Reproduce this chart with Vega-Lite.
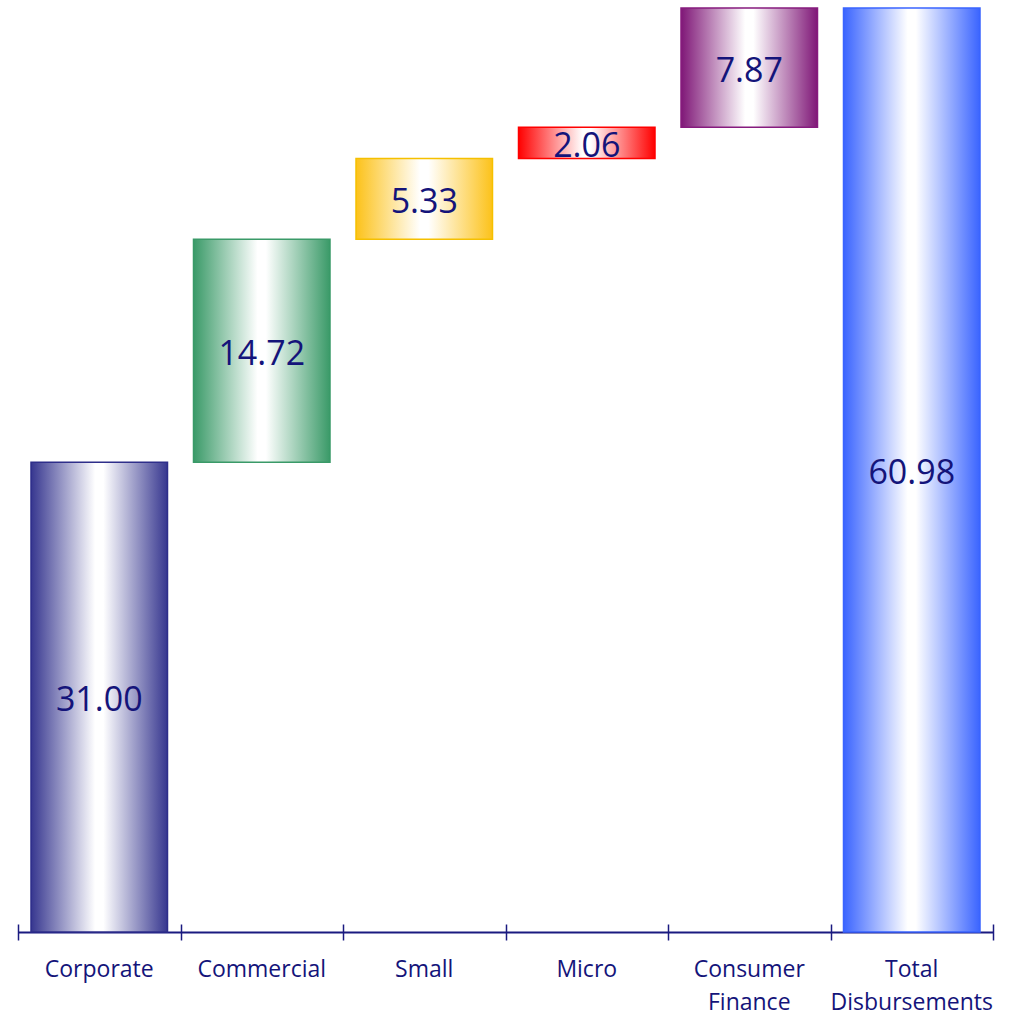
{
  "$schema": "https://vega.github.io/schema/vega-lite/v6.json",
  "width": 975,
  "height": 924,
  "autosize": "none",
  "padding": {"left": 18, "top": 8, "right": 16, "bottom": 84},
  "background": "white",
  "config": {"view": {"stroke": null}},
  "data": {
    "values": [
      {"cat": "Corporate", "start": 0, "end": 31.0, "value": 31.0},
      {"cat": "Commercial", "start": 31.0, "end": 45.72, "value": 14.72},
      {"cat": "Small", "start": 45.72, "end": 51.05, "value": 5.33},
      {"cat": "Micro", "start": 51.05, "end": 53.11, "value": 2.06},
      {"cat": "Consumer Finance", "start": 53.11, "end": 60.98, "value": 7.87},
      {"cat": "Total Disbursements", "start": 0, "end": 60.98, "value": 60.98}
    ]
  },
  "encoding": {
    "x": {
      "field": "cat", "type": "nominal",
      "scale": {"domain": ["Corporate", "Commercial", "Small", "Micro", "Consumer Finance", "Total Disbursements"], "paddingInner": 0, "paddingOuter": 0},
      "axis": null
    },
    "y": {"field": "start", "type": "quantitative", "scale": {"domain": [0, 60.98], "nice": false}, "axis": null},
    "y2": {"field": "end"}
  },
  "resolve": {"axis": {"x": "independent"}},
  "layer": [
    {
      "transform": [{"filter": "datum.cat == 'Corporate'"}],
      "mark": {"type": "bar", "width": {"band": 0.84}, "strokeWidth": 1.5, "stroke": "#2e2e8a",
        "fill": {"gradient": "linear", "x1": 0, "x2": 1, "y1": 0, "y2": 0,
          "stops": [{"offset": 0, "color": "#36368f"}, {"offset": 0.47, "color": "#ffffff"}, {"offset": 0.53, "color": "#ffffff"}, {"offset": 1, "color": "#36368f"}]}},
      "encoding": {
        "x": {
          "field": "cat", "type": "nominal",
          "scale": {"domain": ["Corporate", "Commercial", "Small", "Micro", "Consumer Finance", "Total Disbursements"], "paddingInner": 0, "paddingOuter": 0},
          "axis": {"orient": "bottom", "title": null, "domain": true, "domainColor": "#1a1a80", "domainWidth": 2, "ticks": false, "grid": false,
            "labelExpr": "split(datum.label, ' ')", "labelAngle": 0, "labelFont": "Open Sans", "labelFontSize": 23, "labelColor": "#14147a",
            "labelPadding": 26, "labelLineHeight": 33, "labelBaseline": "top"}
        }
      }
    },
    {
      "transform": [{"filter": "datum.cat == 'Commercial'"}],
      "mark": {"type": "bar", "width": {"band": 0.84}, "strokeWidth": 1.5, "stroke": "#3a9a68",
        "fill": {"gradient": "linear", "x1": 0, "x2": 1, "y1": 0, "y2": 0,
          "stops": [{"offset": 0, "color": "#3a9a68"}, {"offset": 0.47, "color": "#ffffff"}, {"offset": 0.53, "color": "#ffffff"}, {"offset": 1, "color": "#3a9a68"}]}},
      "encoding": {
        "x": {
          "field": "cat", "type": "nominal",
          "scale": {"domain": ["Corporate", "Commercial", "Small", "Micro", "Consumer Finance", "Total Disbursements"], "paddingInner": 0, "paddingOuter": 0},
          "axis": {"orient": "bottom", "title": null, "domain": false, "labels": false, "grid": false, "ticks": true, "tickBand": "extent",
            "tickSize": 16, "tickWidth": 1.5, "tickColor": "#1a1a80", "offset": -8}
        }
      }
    },
    {
      "transform": [{"filter": "datum.cat == 'Small'"}],
      "mark": {"type": "bar", "width": {"band": 0.84}, "strokeWidth": 1.5, "stroke": "#f5c000",
        "fill": {"gradient": "linear", "x1": 0, "x2": 1, "y1": 0, "y2": 0,
          "stops": [{"offset": 0, "color": "#fcc21a"}, {"offset": 0.47, "color": "#ffffff"}, {"offset": 0.53, "color": "#ffffff"}, {"offset": 1, "color": "#fcc21a"}]}}
    },
    {
      "transform": [{"filter": "datum.cat == 'Micro'"}],
      "mark": {"type": "bar", "width": {"band": 0.84}, "strokeWidth": 1.5, "stroke": "#ff0000",
        "fill": {"gradient": "linear", "x1": 0, "x2": 1, "y1": 0, "y2": 0,
          "stops": [{"offset": 0, "color": "#ff0000"}, {"offset": 0.47, "color": "#ffffff"}, {"offset": 0.53, "color": "#ffffff"}, {"offset": 1, "color": "#ff0000"}]}}
    },
    {
      "transform": [{"filter": "datum.cat == 'Consumer Finance'"}],
      "mark": {"type": "bar", "width": {"band": 0.84}, "strokeWidth": 1.5, "stroke": "#861b7e",
        "fill": {"gradient": "linear", "x1": 0, "x2": 1, "y1": 0, "y2": 0,
          "stops": [{"offset": 0, "color": "#7f1777"}, {"offset": 0.47, "color": "#ffffff"}, {"offset": 0.53, "color": "#ffffff"}, {"offset": 1, "color": "#7f1777"}]}}
    },
    {
      "transform": [{"filter": "datum.cat == 'Total Disbursements'"}],
      "mark": {"type": "bar", "width": {"band": 0.84}, "strokeWidth": 1.5, "stroke": "#3a64ff",
        "fill": {"gradient": "linear", "x1": 0, "x2": 1, "y1": 0, "y2": 0,
          "stops": [{"offset": 0, "color": "#3a64ff"}, {"offset": 0.47, "color": "#ffffff"}, {"offset": 0.53, "color": "#ffffff"}, {"offset": 1, "color": "#3a64ff"}]}}
    },
    {
      "transform": [{"calculate": "(datum.start + datum.end) / 2", "as": "mid"}],
      "mark": {"type": "text", "font": "Open Sans", "fontSize": 34, "color": "#14147a", "baseline": "middle", "align": "center", "dy": 4},
      "encoding": {
        "y": {"field": "mid", "type": "quantitative"},
        "y2": null,
        "text": {"field": "value", "type": "quantitative", "format": ".2f"}
      }
    }
  ]
}
